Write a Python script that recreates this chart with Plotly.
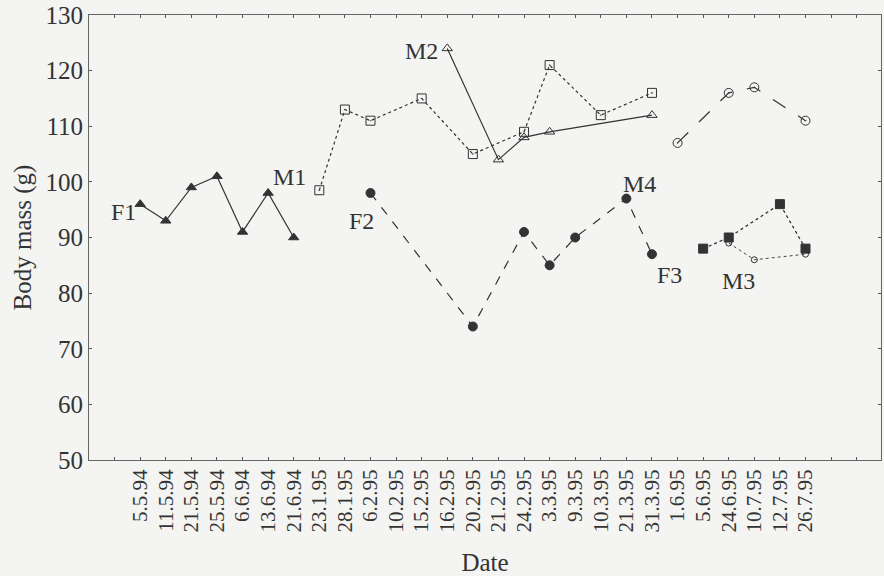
import plotly.graph_objects as go

dates = ["5.5.94", "11.5.94", "21.5.94", "25.5.94", "6.6.94", "13.6.94", "21.6.94",
         "23.1.95", "28.1.95", "6.2.95", "10.2.95", "15.2.95", "16.2.95", "20.2.95",
         "21.2.95", "24.2.95", "3.3.95", "9.3.95", "10.3.95", "21.3.95", "31.3.95",
         "1.6.95", "5.6.95", "24.6.95", "10.7.95", "12.7.95", "26.7.95"]

f1_dates = ["5.5.94", "11.5.94", "21.5.94", "25.5.94", "6.6.94", "13.6.94", "21.6.94"]
f1_mass = [96, 93, 99, 101, 91, 98, 90]

m1_dates = ["23.1.95", "28.1.95", "6.2.95", "15.2.95", "20.2.95", "24.2.95", "3.3.95", "10.3.95", "31.3.95"]
m1_mass = [98.5, 113, 111, 115, 105, 109, 121, 112, 116]

m2_dates = ["16.2.95", "21.2.95", "24.2.95", "3.3.95", "31.3.95"]
m2_mass = [124, 104, 108, 109, 112]

f2_dates = ["6.2.95", "20.2.95", "24.2.95", "3.3.95", "9.3.95", "21.3.95", "31.3.95"]
f2_mass = [98, 74, 91, 85, 90, 97, 87]

m4_dates = ["1.6.95", "24.6.95", "10.7.95", "26.7.95"]
m4_mass = [107, 116, 117, 111]

f3_dates = ["5.6.95", "24.6.95", "12.7.95", "26.7.95"]
f3_mass = [88, 90, 96, 88]

m3_dates = ["24.6.95", "10.7.95", "26.7.95"]
m3_mass = [89, 86, 87]

labels = ["F1", "M1", "M2", "F2", "M4", "F3", "M3"]
label_x = [-0.65, 5.85, 11.0, 8.65, 19.5, 20.7, 23.4]
label_y = [94.6, 100.9, 123.5, 93.0, 99.6, 83.3, 82.2]

tick_pos = list(range(-1, 29))
tick_text = [""] + dates + ["", ""]

INK = "#333333"
FONT = "Liberation Serif"


def idx(ds):
    return [dates.index(d) for d in ds]


fig = go.Figure()

series = [
    (f1_dates, f1_mass, "solid", "triangle-up", 9, 1.2),
    (m1_dates, m1_mass, "dot", "square-open-dot", 9, 1.2),
    (m2_dates, m2_mass, "solid", "triangle-up-open", 9, 1.2),
    (f2_dates, f2_mass, "dash", "circle", 9, 1.2),
    (m4_dates, m4_mass, "longdash", "circle-open-dot", 9, 1.2),
    (f3_dates, f3_mass, "dot", "square", 9, 1.3),
    (m3_dates, m3_mass, "dot", "circle-open", 6, 0.9),
]

for ds, ms, dash, sym, size, w in series:
    fig.add_trace(go.Scatter(
        x=idx(ds), y=ms, mode="lines+markers",
        line=dict(color=INK, width=w, dash=dash),
        marker=dict(symbol=sym, size=size, color=INK, line=dict(color=INK, width=1)),
        showlegend=False,
    ))

for t, lx, ly in zip(labels, label_x, label_y):
    fig.add_annotation(x=lx, y=ly, text=t, showarrow=False,
                       font=dict(family=FONT, size=24, color=INK))

fig.update_layout(
    width=884, height=576,
    margin=dict(l=89, r=3, t=15, b=116),
    paper_bgcolor="#f4f4f2", plot_bgcolor="#f4f4f2",
    font=dict(family=FONT, size=22, color=INK),
    xaxis=dict(
        range=[-2, 28.95], tickmode="array", tickvals=tick_pos, ticktext=tick_text,
        tickangle=-90, ticks="inside", ticklen=3, tickcolor="#555",
        showline=True, linecolor="#666", linewidth=1, mirror="ticks",
        showgrid=False, zeroline=False, automargin=False,
        tickfont=dict(family=FONT, size=21, color=INK),
        title=dict(text="Date", font=dict(family=FONT, size=25, color=INK), standoff=22),
    ),
    yaxis=dict(
        range=[50, 130], tickmode="array", tickvals=list(range(50, 131, 10)),
        ticks="inside", ticklen=3, tickcolor="#555",
        showline=True, linecolor="#666", linewidth=1, mirror="ticks",
        showgrid=False, zeroline=False, automargin=False,
        tickfont=dict(family=FONT, size=25, color=INK),
        title=dict(text="Body mass (g)", font=dict(family=FONT, size=25, color=INK), standoff=6),
    ),
)

fig.write_html("out.html", config={"displayModeBar": False},
               post_script="document.body.style.margin='0';document.body.style.overflow='hidden';")
